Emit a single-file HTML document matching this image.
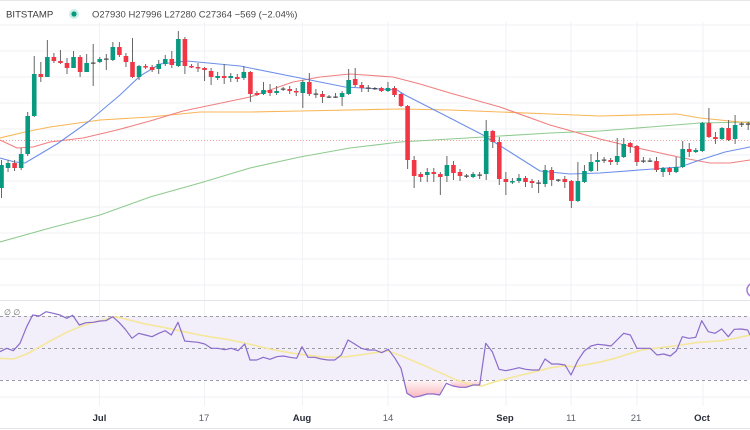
<!DOCTYPE html>
<html><head><meta charset="utf-8"><style>
html,body{margin:0;padding:0;background:#fff;}
svg{display:block;}
text{font-family:"Liberation Sans",sans-serif;}
</style></head><body>
<svg width="750" height="430" viewBox="0 0 750 430" xmlns="http://www.w3.org/2000/svg">
<rect width="750" height="430" fill="#fff"/>
<line x1="0" y1="0.5" x2="750" y2="0.5" stroke="#e6e6e6"/>
<g stroke="#f0f2f6" stroke-width="1">
<path d="M0 25H750M0 51H750M0 77H750M0 103H750M0 129H750M0 155H750M0 181H750M0 207H750M0 233H750M0 259H750M0 285H750M0 397H750"/>
<path d="M99.5 22V406M204.5 22V406M302.5 22V406M388 22V406M506 22V406M571 22V406M637 22V406M703 22V406"/>
</g>
<line x1="0" y1="300.5" x2="750" y2="300.5" stroke="#e3e5ea"/>
<line x1="0" y1="428.5" x2="750" y2="428.5" stroke="#e3e5ea"/>

<text x="-2" y="17.7" font-size="9.5" fill="#444">·</text>
<text x="6" y="17.7" font-size="9.6" fill="#3a3a3a">BITSTAMP</text>
<circle cx="74" cy="14" r="5" fill="#cdeee7"/>
<circle cx="74" cy="14" r="2.6" fill="#089981"/>
<text x="92" y="17.7" font-size="9.5" fill="#4a4a4a">O27930 H27996 L27280 C27364 −569 (−2.04%)</text>

<line x1="0" y1="140.5" x2="750" y2="140.5" stroke="#f2a3a3" stroke-dasharray="1,2"/>

<g fill="none" stroke-width="1.1" stroke-linejoin="round">
<polyline stroke="#8fcb8f" points="0,242 50,228 100,215 150,197 200,183 250,168 300,157 350,148 400,142 450,139 500,136 550,133 600,131 650,127 700,123 750,122"/>
<polyline stroke="#f9b657" points="0,138 25,132 50,127 100,120 150,117 200,112 250,112 300,111 400,109 450,110 500,112 550,114 600,116 677,114 700,118 750,123"/>
<polyline stroke="#f08080" points="0,140 17,148 33,147 50,142 83,138 117,130 150,121 183,111 250,97 293,82 320,77 350,74 393,77 420,84 450,93 500,107 550,125 600,139 633,147 683,158 710,163 730,163 750,160"/>
<polyline stroke="#6c8fea" points="0,158 15,162 25,163 57,144 88,122 120,95 140,76 160,64 187,61 240,66 250,68 300,78 345,87 397,90 405,95 450,118 483,135 510,152 540,171 570,174 600,173 653,169 680,167 700,160 725,152 750,147"/>
</g>

<path stroke="#666" stroke-width="1" fill="none" d="M1.5 160V198M8.05 160V172M14.6 160V171M21.15 148V170M27.7 112V156M34.25 56V117M40.8 62V82M47.35 40V77M53.9 53V63M60.45 50V64M67 58V74M73.55 51V68M80.1 55V77M86.65 54V72M93.2 44V86M99.75 57V63M106.3 54V70M112.85 42V61M119.4 42V57M125.95 53V67M132.5 38V78M139.05 65V80M145.6 64V69M152.15 65V72M158.7 60V74M165.25 55V66M171.8 51V68M178.35 31V67M184.9 37V74M191.45 64V68M198 63V72M204.55 67V81M211.1 68V85M217.65 72V80M224.2 64V84M230.75 73V82M237.3 74V82M243.85 66V80M250.4 71V102M256.95 91V96M263.5 82V95M270.05 84V96M276.6 86V95M283.15 87V91M289.7 86V94M296.25 88V96M302.8 80V108M309.35 73V96M315.9 89V98M322.45 91V103M329 95V98M335.55 93V98M342.1 91V106M348.65 69V95M355.2 68V87M361.75 82V92M368.3 85V92M374.85 87V90M381.4 87V92M387.95 82V92M394.5 86V97M401.05 93V107M407.6 105V169M414.15 156V188M420.7 172V182M427.25 168V182M433.8 168V182M440.35 172V195M446.9 156V182M453.45 161V180M460 169V181M466.55 174V178M473.1 172V178M479.65 172V179M486.2 120V180M492.75 130V148M499.3 137V185M505.85 172V195M512.4 178V184M518.95 174V183M525.5 176V187M532.05 179V188M538.6 180V193M545.15 165V187M551.7 167V186M558.25 179V182M564.8 176V188M571.35 180V208M577.9 162V202M584.45 165V183M591 154V172M597.55 152V171M604.1 157V163M610.65 158V165M617.2 138V165M623.75 138V158M630.3 142V153M636.85 145V166M643.4 157V163M649.95 158V162M656.5 157V172M663.05 167V177M669.6 167V175M676.15 157V173M682.7 141V168M689.25 143V157M695.8 148V153M702.35 122V152M708.9 108V138M715.45 132V144M722 127V140M728.55 120V141M735.1 115V144M741.65 122V127M748.2 122V130"/>

<path fill="#089981" d="M-0.8 165h4.6v23h-4.6zM5.75 163h4.6v5h-4.6zM18.85 154h4.6v14h-4.6zM25.4 116h4.6v38h-4.6zM31.95 74h4.6v42h-4.6zM45.05 57h4.6v20h-4.6zM71.25 57h4.6v11h-4.6zM84.35 63h4.6v9h-4.6zM97.45 59h4.6v3h-4.6zM110.55 47h4.6v13h-4.6zM136.75 66h4.6v11h-4.6zM156.4 64h4.6v5h-4.6zM162.95 59h4.6v5h-4.6zM176.05 39h4.6v27h-4.6zM215.35 76h4.6v2h-4.6zM228.45 76h4.6v2h-4.6zM241.55 72h4.6v6h-4.6zM261.2 90h4.6v4h-4.6zM274.3 91h4.6v2h-4.6zM300.5 82h4.6v11h-4.6zM339.8 93h4.6v4h-4.6zM346.35 80h4.6v14h-4.6zM385.65 88h4.6v3h-4.6zM424.95 172h4.6v3h-4.6zM444.6 165h4.6v11h-4.6zM470.8 174h4.6v3h-4.6zM483.9 131h4.6v43h-4.6zM510.1 181h4.6v1.5h-4.6zM516.65 178h4.6v3h-4.6zM542.85 170h4.6v14h-4.6zM575.6 181h4.6v20h-4.6zM582.15 171h4.6v11h-4.6zM588.7 162h4.6v9h-4.6zM595.25 160h4.6v2h-4.6zM614.9 156h4.6v6h-4.6zM621.45 144h4.6v13h-4.6zM660.75 168h4.6v4h-4.6zM673.85 167h4.6v5h-4.6zM680.4 149h4.6v18h-4.6zM693.5 150h4.6v2h-4.6zM700.05 123h4.6v28h-4.6zM719.7 128h4.6v11h-4.6zM732.8 125h4.6v14h-4.6z"/>

<path fill="#f23645" d="M12.3 163h4.6v5h-4.6zM38.5 74h4.6v3h-4.6zM51.6 57h4.6v4h-4.6zM58.15 61h4.6v2h-4.6zM64.7 63h4.6v5h-4.6zM77.8 57h4.6v15h-4.6zM117.1 47h4.6v8h-4.6zM123.65 56h4.6v6h-4.6zM130.2 62h4.6v15h-4.6zM143.3 66h4.6v1.5h-4.6zM149.85 67h4.6v3h-4.6zM169.5 59h4.6v6h-4.6zM182.6 39h4.6v27h-4.6zM189.15 66h4.6v1.5h-4.6zM195.7 67h4.6v1.5h-4.6zM202.25 68h4.6v2h-4.6zM208.8 71h4.6v6h-4.6zM221.9 76h4.6v2h-4.6zM235 77h4.6v2h-4.6zM248.1 72h4.6v22h-4.6zM254.65 93h4.6v2h-4.6zM267.75 90h4.6v3h-4.6zM287.4 89h4.6v2h-4.6zM293.95 91h4.6v1.5h-4.6zM307.05 82h4.6v12h-4.6zM320.15 94h4.6v3h-4.6zM352.9 79h4.6v6h-4.6zM359.45 85h4.6v3h-4.6zM379.1 88h4.6v3h-4.6zM392.2 88h4.6v7h-4.6zM398.75 94h4.6v12h-4.6zM405.3 106h4.6v54h-4.6zM411.85 160h4.6v16h-4.6zM418.4 174h4.6v3h-4.6zM431.5 172h4.6v2h-4.6zM438.05 174h4.6v3h-4.6zM451.15 165h4.6v8h-4.6zM457.7 172h4.6v4h-4.6zM490.45 131h4.6v11h-4.6zM497 142h4.6v37h-4.6zM503.55 179h4.6v3h-4.6zM523.2 178h4.6v4h-4.6zM529.75 181h4.6v2h-4.6zM549.4 170h4.6v10h-4.6zM562.5 179h4.6v3h-4.6zM569.05 181h4.6v20h-4.6zM608.35 160h4.6v2h-4.6zM628 143h4.6v4h-4.6zM634.55 146h4.6v16h-4.6zM654.2 161h4.6v9h-4.6zM667.3 168h4.6v4h-4.6zM686.95 149h4.6v3h-4.6zM706.6 123h4.6v14h-4.6zM713.15 137h4.6v2h-4.6zM726.25 128h4.6v12h-4.6z"/>

<path fill="#4a4a4a" d="M90.9 62.5h4.6v1.2h-4.6zM104 58.5h4.6v1.2h-4.6zM280.85 88.5h4.6v1.2h-4.6zM313.6 93.5h4.6v1.2h-4.6zM326.7 96.5h4.6v1.2h-4.6zM333.25 96.5h4.6v1.2h-4.6zM366 87.5h4.6v1.2h-4.6zM372.55 88h4.6v1.2h-4.6zM464.25 175.5h4.6v1.2h-4.6zM477.35 174.5h4.6v1.2h-4.6zM536.3 182.5h4.6v1.2h-4.6zM555.95 179.5h4.6v1.2h-4.6zM601.8 159.5h4.6v1.2h-4.6zM641.1 160.5h4.6v1.2h-4.6zM647.65 160.5h4.6v1.2h-4.6zM739.35 123.5h4.6v1.2h-4.6zM745.9 123.5h4.6v1.2h-4.6z"/>

<circle cx="754" cy="290" r="7" fill="none" stroke="#a77bd6" stroke-width="1.5"/>

<rect x="0" y="316" width="750" height="64" fill="#f2eefa"/>
<path stroke="#9a9ca5" stroke-width="1" stroke-dasharray="3,3" d="M0 316.5H750M0 348.5H750M0 380.5H750"/>
<defs>
<linearGradient id="os" x1="0" y1="0" x2="0" y2="1">
<stop offset="0" stop-color="#f23645" stop-opacity="0.04"/>
<stop offset="1" stop-color="#f23645" stop-opacity="0.35"/>
</linearGradient>
</defs>
<polygon fill="url(#os)" points="404,380 407,393.3 413.7,397.3 420.3,396 427,394 433.7,394 439.7,395 445.5,380"/>
<polygon fill="url(#os)" points="447,380 453,386 459.7,387.3 466.3,387.3 473,385 479.7,385 481,380"/>
<rect x="0" y="304" width="24" height="12" fill="#fff"/>
<text x="4" y="315" font-size="8" fill="#666">∅ ∅</text>
<polyline fill="none" stroke="#f5e79a" stroke-width="1.6" stroke-linejoin="round" points="0,358.3 13.3,359 26.7,354 40,346.7 53.3,339.3 66.7,332.3 80,326.7 93.3,322.3 106.7,319.3 113.3,316.7 120,317.7 133.3,321 146.7,324.3 160,326.7 173.3,329.3 186.7,332.3 200,335 213.3,337.3 226.7,339.3 240,342 253.3,345 266.7,348.3 280,351 293.3,353.3 306.7,355 320,356.7 333.3,357.3 346.7,356.7 360,355 375,352.7 388.3,351 401.7,356 415,361.7 428.3,367.3 441.7,373.3 455,379.3 468.3,384 481.7,386 495,381.7 508.3,378.3 521.7,375 535,371.7 548.3,368.3 561.7,366 575,366.7 588.3,364.3 601.7,361.7 615,358.3 628.3,354 641.7,350 655,348.3 668.3,346.7 681.7,345 695,342.7 708.3,341.7 721.7,340.7 735,338.3 750,335"/>
<polyline fill="none" stroke="#8a6bcb" stroke-width="1.2" stroke-linejoin="round" points="0,351.7 6.7,348.3 13.3,350.7 20,343.3 26.7,326.7 32.7,315 39.3,316 46,311.7 53.3,313.3 60,315 66.7,318.3 72.7,315.3 79.3,325 86,322.7 93.3,322.3 100,321 106,320.7 112.7,316.7 119.3,322.7 125.3,329.3 132,338.3 138.7,333.3 145.3,335 152,336.7 158.7,333.3 165.3,330.7 171.3,335 178,322.3 184.7,341 191.3,341.7 198,342.3 204.7,344 211.3,348.3 218,348.3 224.7,349.7 231.3,348.3 238,350.7 244.7,344 250,360 256.7,360 263.3,357.3 270,359.3 276.7,356.7 283.3,356 290,357.3 296.7,358.3 302,346.7 308,357.3 314.7,357.3 321.3,359 328,360 334.7,360 341.3,355 348,340 354.7,344 361.3,348.3 368,350 375,350 381.7,352.7 388.3,349.3 395,358.3 401,368.3 407,393.3 413.7,397.3 420.3,396 427,394 433.7,394 439.7,395 446.3,383.3 453,386 459.7,387.3 466.3,387.3 473,385 479.7,385 485.7,343.3 492.3,351.7 499,369.3 505.7,370.7 512.3,369.3 519,367.7 525.7,369.3 532.3,370 539,370 545,359 551.7,364 558.3,364 565,365 571,375 577.7,360.7 584.3,351 591,346 597.7,344.3 604.3,345 611,346 617,340 623.7,333.3 630.3,335 637,348.3 643.7,348.3 650.3,348.3 657,355 663.7,354 670.3,356 676.3,351 682.3,336.7 689,338.3 695.7,337.3 701.7,320.7 708.3,331.7 715,333.3 721.7,329 728.3,336.7 734.3,329.3 741,329 747.7,330 750,335"/>

<g font-size="9.5" text-anchor="middle">
<text x="99.5" y="421" font-weight="bold" fill="#2a2e39">Jul</text>
<text x="204" y="421" fill="#5d606b">17</text>
<text x="302" y="421" font-weight="bold" fill="#2a2e39">Aug</text>
<text x="388" y="421" fill="#5d606b">14</text>
<text x="505" y="421" font-weight="bold" fill="#2a2e39">Sep</text>
<text x="571" y="421" fill="#5d606b">11</text>
<text x="636" y="421" fill="#5d606b">21</text>
<text x="702" y="421" font-weight="bold" fill="#2a2e39">Oct</text>
</g>
</svg>
</body></html>
